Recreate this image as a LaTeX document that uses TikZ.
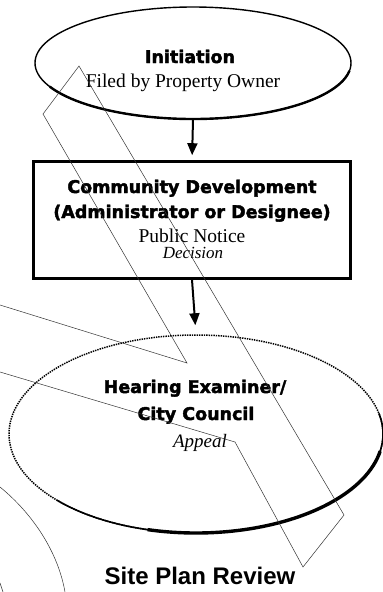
\documentclass[tikz,border=0pt]{standalone}
\usepackage{fontspec}
\setmainfont{Liberation Serif}
\newfontfamily\headfont{DejaVu Sans}[BoldFeatures={FakeBold=2.2}]
\newfontfamily\titlefont{Liberation Sans}
\usetikzlibrary{
  shapes.geometric,arrows.meta
}

\tikzset{
  stagebox/.style={draw=black,line width=1.4pt,inner sep=0pt},
  headtext/.style={anchor=base,inner sep=0pt,font=\headfont\bfseries\fontsize{17.5}{18}\selectfont},
  bodytext/.style={anchor=base,inner sep=0pt,font=\fontsize{19.5}{20}\selectfont},
  flowarrow/.style={line width=2pt,-{Triangle[width=10pt,length=12pt]}},
  scribble/.style={black!80,line width=0.5pt,line join=miter}
}

\begin{document}
\begin{tikzpicture}[x=1pt,y=-1pt]
\useasboundingbox[fill=white] (0,0) rectangle (383,592);

% stages
\node[stagebox,ellipse,minimum width=316pt,minimum height=112pt] (init) at (193,63) {};
\node[stagebox,rectangle,line width=2.6pt,minimum width=317pt,minimum height=117pt] (commdev) at (192,220) {};
\node[stagebox,ellipse,densely dotted,line width=1.5pt,minimum width=374pt,minimum height=198pt] (hearing) at (196,434) {};

% heavy lower edges
\draw[line width=2.4pt] (init.center) ++(205:158pt and 56pt) arc[start angle=205,end angle=352,x radius=158pt,y radius=56pt];
\draw[line width=1.6pt] (hearing.center) ++(222:187pt and 99pt) arc[start angle=222,end angle=372,x radius=187pt,y radius=99pt];
\draw[line width=3.4pt] (hearing.center) ++(255:187pt and 99pt) arc[start angle=255,end angle=350,x radius=187pt,y radius=99pt];

% texts
\node[headtext] (inittitle) at (190,63) {Initiation};
\node[bodytext] (initsub) at (183,87) {Filed by Property Owner};
\node[headtext] (cdtitle) at (192,193) {Community Development};
\node[headtext] (cdwho) at (192,218) {(Administrator or Designee)};
\node[bodytext] (cdnotice) at (192,242) {Public Notice};
\node[bodytext,font=\itshape\fontsize{17}{18}\selectfont] (cddecision) at (193,258) {Decision};
\node[headtext] (hetitle) at (195,393) {Hearing Examiner/};
\node[headtext] (hecouncil) at (196,420) {City Council};
\node[bodytext,font=\itshape\fontsize{19}{20}\selectfont] (heappeal) at (200,447) {Appeal};
\node[anchor=base,inner sep=0pt,font=\titlefont\bfseries\fontsize{24}{24}\selectfont] (caption) at (200,584) {Site Plan Review};

% flow
\draw[flowarrow,shorten >=5pt] (init.south) -- (commdev.north);
\draw[flowarrow,shorten >=9pt] (commdev.south) -- (hearing.north);

% stray pen strokes
\draw[scribble] (0,305) -- (187,363) -- (43,114) -- (79,66) -- (344,515) -- (303,567) -- (235,442) -- (0,372);
\draw[scribble] (0,487) .. controls (33,514) and (58,552) .. (65,592);
\draw[scribble] (0,583) -- (3,592);
\end{tikzpicture}
\end{document}
